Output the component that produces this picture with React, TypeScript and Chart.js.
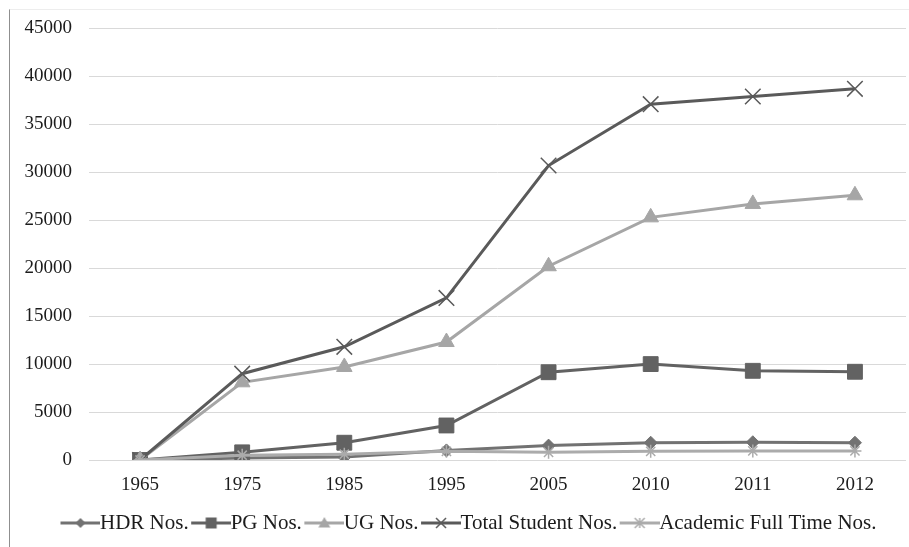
import React, { useEffect, useRef } from 'react';
import { Chart, registerables } from 'chart.js';

Chart.register(...registerables);

// ---- data ----
const years = ['1965', '1975', '1985', '1995', '2005', '2010', '2011', '2012'];
const hdrNos = [0, 200, 300, 1000, 1500, 1800, 1850, 1800];
const pgNos = [0, 800, 1800, 3600, 9150, 10000, 9300, 9200];
const ugNos = [0, 8100, 9700, 12300, 20200, 25300, 26700, 27600];
const totalStudentNos = [0, 9000, 11800, 16900, 30700, 37100, 37900, 38700];
const academicFullTimeNos = [0, 500, 600, 900, 800, 900, 950, 950];
const seriesNames = ['HDR Nos.', 'PG Nos.', 'UG Nos.', 'Total Student Nos.', 'Academic Full Time Nos.'];
const yMin = 0;
const yMax = 45000;
const yStep = 5000;

type Marker = 'rectRot' | 'rect' | 'triangle' | 'crossRot' | 'star';

const seriesStyle: { color: string; marker: Marker; radius: number; pbw: number }[] = [
  { color: '#727272', marker: 'rectRot', radius: 6.5, pbw: 1 },
  { color: '#626262', marker: 'rect', radius: 10.5, pbw: 1 },
  { color: '#a6a6a6', marker: 'triangle', radius: 9, pbw: 1 },
  { color: '#5a5a5a', marker: 'crossRot', radius: 11, pbw: 1.5 },
  { color: '#ababab', marker: 'star', radius: 6.5, pbw: 1.5 },
];

const FONT = 'Liberation Serif';
const TEXT = '#1c1c1c';

function makeLegendIcon(color: string, marker: Marker): HTMLCanvasElement {
  const c = document.createElement('canvas');
  c.width = 50;
  c.height = 20;
  const ctx = c.getContext('2d')!;
  ctx.strokeStyle = color;
  ctx.fillStyle = color;
  ctx.lineWidth = 3;
  ctx.beginPath();
  ctx.moveTo(10, 10);
  ctx.lineTo(50, 10);
  ctx.stroke();
  const cx = 30;
  const cy = 10;
  ctx.lineWidth = 1.5;
  ctx.beginPath();
  if (marker === 'rectRot') {
    const r = 5;
    ctx.moveTo(cx, cy - r);
    ctx.lineTo(cx + r, cy);
    ctx.lineTo(cx, cy + r);
    ctx.lineTo(cx - r, cy);
    ctx.closePath();
    ctx.fill();
  } else if (marker === 'rect') {
    ctx.rect(cx - 5.5, cy - 5.5, 11, 11);
    ctx.fill();
  } else if (marker === 'triangle') {
    ctx.moveTo(cx, cy - 6);
    ctx.lineTo(cx + 6, cy + 4.5);
    ctx.lineTo(cx - 6, cy + 4.5);
    ctx.closePath();
    ctx.fill();
  } else if (marker === 'crossRot') {
    const r = 5;
    ctx.moveTo(cx - r, cy - r);
    ctx.lineTo(cx + r, cy + r);
    ctx.moveTo(cx + r, cy - r);
    ctx.lineTo(cx - r, cy + r);
    ctx.stroke();
  } else {
    const r = 5;
    ctx.moveTo(cx - r, cy - r);
    ctx.lineTo(cx + r, cy + r);
    ctx.moveTo(cx + r, cy - r);
    ctx.lineTo(cx - r, cy + r);
    ctx.moveTo(cx, cy - r);
    ctx.lineTo(cx, cy + r);
    ctx.stroke();
  }
  return c;
}

// shifts the legend box so that its row is centred like the reference
const legendShift = {
  id: 'legendShift',
  afterLayout(chart: any) {
    if (chart.legend) {
      chart.legend.left = 32;
    }
  },
};

export default function App() {
  const ref = useRef<HTMLCanvasElement>(null);

  useEffect(() => {
    const values = [hdrNos, pgNos, ugNos, totalStudentNos, academicFullTimeNos];
    const icons = seriesStyle.map((s) => makeLegendIcon(s.color, s.marker));
    const chart = new Chart(ref.current!, {
      type: 'line',
      data: {
        labels: years,
        datasets: seriesNames.map((name, i) => ({
          label: name,
          data: values[i],
          borderColor: seriesStyle[i].color,
          backgroundColor: seriesStyle[i].color,
          borderWidth: 3,
          tension: 0,
          fill: false,
          pointStyle: seriesStyle[i].marker,
          pointRadius: seriesStyle[i].radius,
          pointBackgroundColor: seriesStyle[i].color,
          pointBorderColor: seriesStyle[i].color,
          pointBorderWidth: seriesStyle[i].pbw,
          order: seriesNames.length - i,
        })),
      },
      plugins: [legendShift],
      options: {
        responsive: false,
        animation: false,
        layout: { autoPadding: false, padding: { left: 0, right: 3, top: 28, bottom: 3.5 } },
        scales: {
          x: {
            offset: true,
            grid: { display: false, drawTicks: true, tickLength: 14 },
            border: { display: false },
            ticks: {
              padding: 0,
              color: TEXT,
              font: { family: FONT, size: 19 },
              maxRotation: 0,
              autoSkip: false,
            },
            afterFit: (s: any) => {
              s.height = 49;
              s.paddingLeft = 0;
              s.paddingRight = 0;
            },
          },
          y: {
            min: yMin,
            max: yMax,
            grid: { color: '#d9d9d9', lineWidth: 1, drawTicks: false },
            border: { display: false },
            ticks: {
              stepSize: yStep,
              padding: 17,
              color: TEXT,
              font: { family: FONT, size: 19 },
              callback: (v: any) => String(v),
            },
            afterFit: (s: any) => {
              s.width = 89;
            },
          },
        },
        plugins: {
          legend: {
            position: 'bottom',
            labels: {
              usePointStyle: true,
              pointStyleWidth: 28,
              padding: 3.5,
              color: TEXT,
              font: { family: FONT, size: 21 },
              generateLabels: () =>
                seriesNames.map((name, i) => ({
                  text: name,
                  pointStyle: icons[i] as any,
                  fillStyle: 'rgba(0,0,0,0)',
                  strokeStyle: 'rgba(0,0,0,0)',
                  lineWidth: 0,
                  hidden: false,
                  datasetIndex: i,
                  fontColor: TEXT,
                })),
            },
          },
          tooltip: { enabled: false },
        },
      } as any,
    });
    return () => chart.destroy();
  }, []);

  return (
    <div style={{ position: 'fixed', left: 0, top: 0, width: 909, height: 547, background: '#ffffff', overflow: 'hidden' }}>
      <div
        style={{
          position: 'absolute',
          left: 9,
          top: 9,
          right: 0,
          bottom: 0,
          borderLeft: '1px solid #8f8f8f',
          borderTop: '1px solid #ededed',
        }}
      />
      <canvas ref={ref} width={909} height={547} style={{ position: 'absolute', left: 0, top: 0, width: 909, height: 547 }} />
    </div>
  );
}
